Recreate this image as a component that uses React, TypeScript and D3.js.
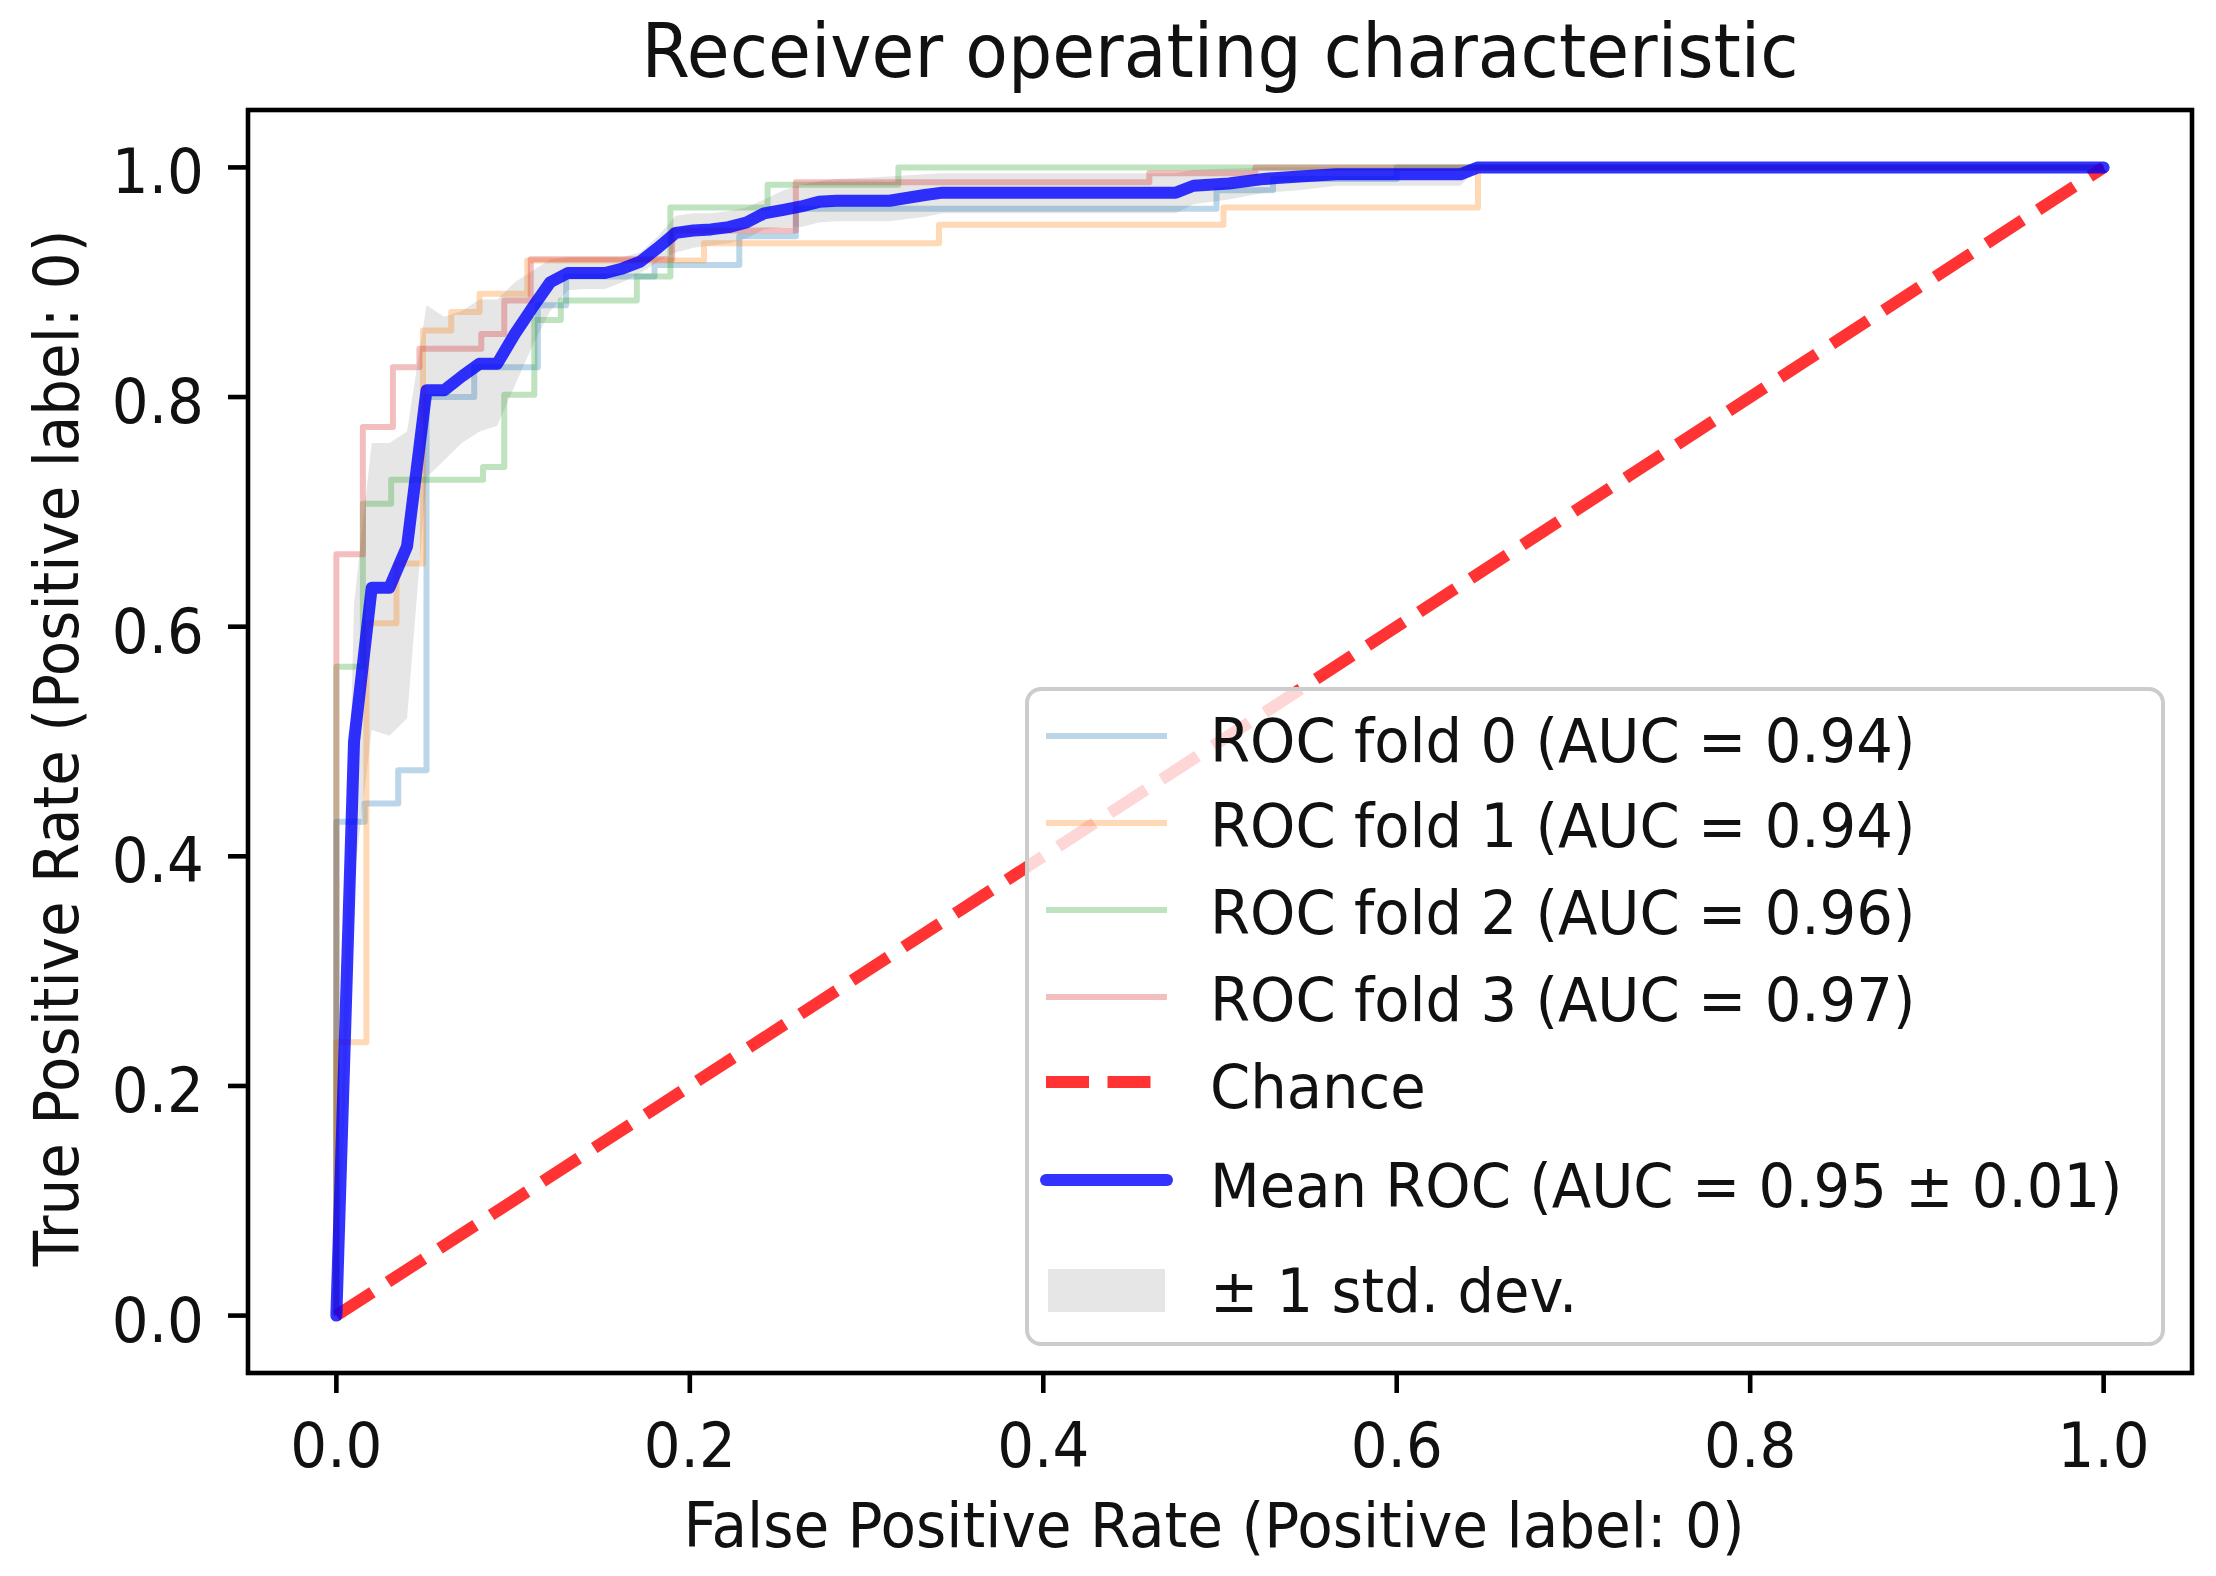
import React from "react";
import * as d3 from "d3";

// ---- chart values ----
const tickValues = [0, 0.2, 0.4, 0.6, 0.8, 1.0];
const tickLabels = ["0.0", "0.2", "0.4", "0.6", "0.8", "1.0"];

const fold0Fpr = [0, 0, 0.016, 0.016, 0.035, 0.035, 0.051, 0.051, 0.078, 0.078, 0.114, 0.114, 0.13, 0.13, 0.18, 0.18, 0.228, 0.228, 0.26, 0.26, 0.498, 0.498, 0.53, 0.53, 0.6, 0.6, 1];
const fold0Tpr = [0, 0.43, 0.43, 0.446, 0.446, 0.475, 0.475, 0.8, 0.8, 0.826, 0.826, 0.88, 0.88, 0.905, 0.905, 0.915, 0.915, 0.94, 0.94, 0.964, 0.964, 0.98, 0.98, 0.99, 0.99, 1, 1];

const fold1Fpr = [0, 0, 0.017, 0.017, 0.034, 0.034, 0.049, 0.049, 0.065, 0.065, 0.081, 0.081, 0.108, 0.108, 0.208, 0.208, 0.341, 0.341, 0.502, 0.502, 0.646, 0.646, 1];
const fold1Tpr = [0, 0.238, 0.238, 0.603, 0.603, 0.655, 0.655, 0.858, 0.858, 0.874, 0.874, 0.89, 0.89, 0.919, 0.919, 0.934, 0.934, 0.95, 0.95, 0.965, 0.965, 1, 1];

const fold2Fpr = [0, 0, 0.015, 0.015, 0.031, 0.031, 0.083, 0.083, 0.095, 0.095, 0.112, 0.112, 0.127, 0.127, 0.17, 0.17, 0.189, 0.189, 0.244, 0.244, 0.318, 0.318, 1];
const fold2Tpr = [0, 0.565, 0.565, 0.707, 0.707, 0.728, 0.728, 0.739, 0.739, 0.802, 0.802, 0.867, 0.867, 0.884, 0.884, 0.905, 0.905, 0.965, 0.965, 0.985, 0.985, 1, 1];

const fold3Fpr = [0, 0, 0.015, 0.015, 0.032, 0.032, 0.047, 0.047, 0.082, 0.082, 0.095, 0.095, 0.11, 0.11, 0.19, 0.19, 0.26, 0.26, 0.46, 0.46, 0.52, 0.52, 1];
const fold3Tpr = [0, 0.663, 0.663, 0.774, 0.774, 0.826, 0.826, 0.842, 0.842, 0.855, 0.855, 0.884, 0.884, 0.92, 0.92, 0.945, 0.945, 0.987, 0.987, 0.995, 0.995, 1, 1];

const foldLabels = [
  "ROC fold 0 (AUC = 0.94)",
  "ROC fold 1 (AUC = 0.94)",
  "ROC fold 2 (AUC = 0.96)",
  "ROC fold 3 (AUC = 0.97)",
];
const foldColors = ["#1f77b4", "#ff7f0e", "#2ca02c", "#d62728"];

const meanFpr = [0, 0.01, 0.02, 0.03, 0.04, 0.051, 0.061, 0.071, 0.081, 0.091, 0.101, 0.111, 0.121, 0.131, 0.141, 0.152, 0.162, 0.172, 0.182, 0.192, 0.202, 0.212, 0.222, 0.232, 0.242, 0.253, 0.263, 0.273, 0.283, 0.313, 0.333, 0.343, 0.475, 0.485, 0.505, 0.525, 0.545, 0.566, 0.586, 0.636, 0.646, 1];
const meanTpr = [0, 0.5, 0.634, 0.634, 0.67, 0.806, 0.806, 0.818, 0.829, 0.829, 0.855, 0.878, 0.9, 0.908, 0.908, 0.908, 0.912, 0.918, 0.93, 0.943, 0.945, 0.946, 0.948, 0.952, 0.96, 0.963, 0.966, 0.97, 0.971, 0.971, 0.976, 0.978, 0.978, 0.984, 0.986, 0.99, 0.992, 0.994, 0.994, 0.994, 1, 1];
const tprUpper = [0, 0.62, 0.76, 0.76, 0.77, 0.88, 0.87, 0.875, 0.885, 0.885, 0.9, 0.91, 0.92, 0.922, 0.922, 0.922, 0.922, 0.926, 0.94, 0.958, 0.96, 0.96, 0.962, 0.965, 0.972, 0.98, 0.985, 0.988, 0.99, 0.992, 0.994, 0.995, 0.995, 0.998, 0.999, 1, 1, 1, 1, 1, 1, 1];
const tprLower = [0, 0.38, 0.51, 0.505, 0.52, 0.73, 0.745, 0.76, 0.77, 0.775, 0.81, 0.845, 0.875, 0.893, 0.894, 0.894, 0.9, 0.908, 0.918, 0.926, 0.93, 0.932, 0.934, 0.938, 0.946, 0.948, 0.948, 0.952, 0.953, 0.953, 0.957, 0.96, 0.96, 0.968, 0.972, 0.978, 0.98, 0.984, 0.984, 0.984, 1, 1];

const meanLabel = "Mean ROC (AUC = 0.95 \u00b1 0.01)";
const bandLabel = "\u00b1 1 std. dev.";

// ---- layout ----
const W = 2216;
const H = 1576;
const left = 248, right = 2192, top = 110, bottom = 1373;
const FONT = "'DejaVu Sans', 'Liberation Sans', sans-serif";
const INK = "#111111";

// glyphs in the picture are a bit narrower than DejaVu, so squeeze x a little
function Label({ x, y, size, anchor = "start", rotate = 0, sq = 0.92, children }: any) {
  return (
    <text
      transform={`translate(${x},${y}) rotate(${rotate}) scale(${sq},1)`}
      fontSize={size}
      fontFamily={FONT}
      textAnchor={anchor}
      fill={INK}
    >
      {children}
    </text>
  );
}

export default function App() {
  const x = d3.scaleLinear().domain([-0.05, 1.05]).range([left, right]);
  const y = d3.scaleLinear().domain([-0.05, 1.05]).range([bottom, top]);

  const line = d3
    .line<[number, number]>()
    .x((d) => x(d[0]))
    .y((d) => y(d[1]));

  const folds = [
    [fold0Fpr, fold0Tpr],
    [fold1Fpr, fold1Tpr],
    [fold2Fpr, fold2Tpr],
    [fold3Fpr, fold3Tpr],
  ].map(([f, t]) => f.map((v, i) => [v, t[i]] as [number, number]));

  const meanPts = meanFpr.map((v, i) => [v, meanTpr[i]] as [number, number]);

  const band = d3
    .area<number>()
    .x((i) => x(meanFpr[i]))
    .y0((i) => y(tprLower[i]))
    .y1((i) => y(tprUpper[i]));

  const chance = line([
    [0, 0],
    [1, 1],
  ]);

  // legend geometry
  const lgX = 1027, lgY = 689, lgW = 1136, lgH = 655;
  const hx0 = 1046, hx1 = 1167, tx = 1210;
  const rowBase = [762, 847, 934, 1021, 1108, 1207, 1312];
  const rowLine = [736, 823, 910, 997, 1082, 1180, 1290];
  const lsq = 0.945;

  return (
    <svg
      width={W}
      height={H}
      style={{ position: "absolute", left: 0, top: 0, background: "#fff" }}
    >
      <rect x={0} y={0} width={W} height={H} fill="#fff" />

      {/* std band */}
      <path d={band(d3.range(meanFpr.length)) || ""} fill="#808080" fillOpacity={0.2} />

      {/* folds */}
      {folds.map((pts, i) => (
        <path
          key={i}
          d={line(pts) || ""}
          fill="none"
          stroke={foldColors[i]}
          strokeOpacity={0.3}
          strokeWidth={6}
          strokeLinejoin="round"
        />
      ))}

      {/* chance */}
      <path
        d={chance || ""}
        fill="none"
        stroke="#ff0000"
        strokeOpacity={0.8}
        strokeWidth={12}
        strokeDasharray="43 18.5"
      />

      {/* mean */}
      <path
        d={line(meanPts) || ""}
        fill="none"
        stroke="#0000ff"
        strokeOpacity={0.8}
        strokeWidth={12}
        strokeLinejoin="round"
        strokeLinecap="round"
      />

      {/* spines */}
      <rect
        x={left}
        y={top}
        width={right - left}
        height={bottom - top}
        fill="none"
        stroke="#000"
        strokeWidth={4.6}
      />

      {/* ticks */}
      {tickValues.map((v, i) => (
        <g key={"x" + i}>
          <line x1={x(v)} x2={x(v)} y1={bottom} y2={bottom + 20} stroke="#000" strokeWidth={4.6} />
          <Label x={x(v)} y={1467} size={63} anchor="middle">
            {tickLabels[i]}
          </Label>
        </g>
      ))}
      {tickValues.map((v, i) => (
        <g key={"y" + i}>
          <line x1={left - 20} x2={left} y1={y(v)} y2={y(v)} stroke="#000" strokeWidth={4.6} />
          <Label x={204} y={y(v) + 26} size={63} anchor="end">
            {tickLabels[i]}
          </Label>
        </g>
      ))}

      {/* titles */}
      <Label x={1220} y={77} size={75} anchor="middle" sq={0.93}>
        Receiver operating characteristic
      </Label>
      <Label x={1214} y={1547} size={63} anchor="middle" sq={0.922}>
        False Positive Rate (Positive label: 0)
      </Label>
      <Label x={78} y={748} size={63} anchor="middle" rotate={-90} sq={0.92}>
        True Positive Rate (Positive label: 0)
      </Label>

      {/* legend */}
      <rect
        x={lgX}
        y={lgY}
        width={lgW}
        height={lgH}
        rx={14}
        fill="#fff"
        fillOpacity={0.8}
        stroke="#cccccc"
        strokeWidth={4}
      />
      {foldLabels.map((lab, i) => (
        <g key={"lg" + i}>
          <line
            x1={hx0}
            x2={hx1}
            y1={rowLine[i]}
            y2={rowLine[i]}
            stroke={foldColors[i]}
            strokeOpacity={0.3}
            strokeWidth={6}
          />
          <Label x={tx} y={rowBase[i]} size={61} sq={lsq}>
            {lab}
          </Label>
        </g>
      ))}
      <line
        x1={hx0}
        x2={hx1}
        y1={rowLine[4]}
        y2={rowLine[4]}
        stroke="#ff0000"
        strokeOpacity={0.8}
        strokeWidth={12}
        strokeDasharray="43 18.5"
      />
      <Label x={tx} y={rowBase[4]} size={61} sq={lsq}>
        Chance
      </Label>
      <line
        x1={hx0}
        x2={hx1}
        y1={rowLine[5]}
        y2={rowLine[5]}
        stroke="#0000ff"
        strokeOpacity={0.8}
        strokeWidth={12}
        strokeLinecap="round"
      />
      <Label x={tx} y={rowBase[5]} size={61} sq={lsq}>
        {meanLabel}
      </Label>
      <rect
        x={hx0 + 2}
        y={rowLine[6] - 21}
        width={hx1 - hx0 - 4}
        height={43}
        fill="#808080"
        fillOpacity={0.2}
      />
      <Label x={tx} y={rowBase[6]} size={61} sq={lsq}>
        {bandLabel}
      </Label>
    </svg>
  );
}
